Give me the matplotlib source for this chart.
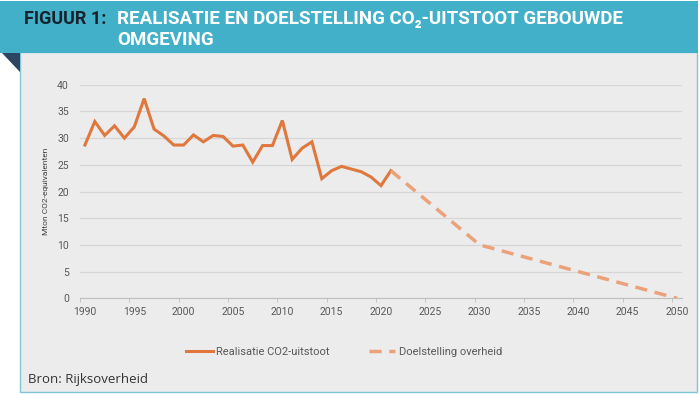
import matplotlib.pyplot as plt
from matplotlib.patches import Rectangle, Polygon

# gemeten uitstoot (Mton CO2-eq)
years = list(range(1990, 2022))
realisatie = [28.7, 33.1, 30.5, 32.3, 30.0, 32.1, 37.4, 31.7, 30.4, 28.7,
              28.7, 30.6, 29.3, 30.5, 30.3, 28.5, 28.7, 25.5, 28.6, 28.6,
              33.3, 26.0, 28.1, 29.3, 22.4, 23.9, 24.7, 24.2, 23.7, 22.7,
              21.1, 23.9]
# doelstelling
doel_years = [2021, 2030, 2050]
doel = [23.9, 10.0, 0.0]

xticks = list(range(1990, 2051, 5))
yticks = list(range(0, 41, 5))

plt.rcParams['font.family'] = ['Roboto', 'DejaVu Sans']

fig = plt.figure(figsize=(7, 3.94), dpi=100)
W, H = 700, 394

# achtergrond
bg = fig.add_axes([0, 0, 1, 1])
bg.set_xlim(0, W)
bg.set_ylim(H, 0)
bg.axis('off')
bg.add_patch(Rectangle((20, 52), 677, 340, facecolor='#ececec', edgecolor='#7fc6d6', lw=1))
bg.add_patch(Rectangle((0, 1), 698, 52, facecolor='#42b0c8', edgecolor='none'))
bg.add_patch(Polygon([(2, 53), (20, 53), (20, 72)], closed=True, facecolor='#2d4560', edgecolor='none'))

bg.text(24, 19, 'FIGUUR 1:', color='#17222e', fontsize=13, fontweight='bold', va='center', ha='left')
bg.text(117, 19, 'REALISATIE EN DOELSTELLING CO₂-UITSTOOT GEBOUWDE', color='white',
        fontsize=13.5, fontweight='bold', va='center', ha='left')
bg.text(117, 40, 'OMGEVING', color='white', fontsize=13.5, fontweight='bold', va='center', ha='left')
bg.text(28, 379, 'Bron: Rijksoverheid', color='#333333', fontsize=9.5, va='center', ha='left',
        family=['Open Sans', 'DejaVu Sans'])

ax = fig.add_axes([80 / W, 1 - 298.3 / H, (682 - 80) / W, (298.3 - 84.7) / H])
ax.set_facecolor('none')
ax.plot(years, realisatie, color='#e0783e', lw=2.2, label='Realisatie CO2-uitstoot', solid_joinstyle='miter')
ax.plot(doel_years, doel, color='#eba27a', lw=2.5, dashes=(3.5, 2.2), label='Doelstelling overheid')

ax.set_xlim(1989.5, 2050.5)
ax.set_ylim(0, 40)
ax.set_xticks(xticks)
ax.set_yticks(yticks)
ax.set_xticks([x - 0.5 for x in xticks], minor=True)
ax.tick_params(axis='x', which='major', length=0, pad=6, labelsize=7.5, labelcolor='#595959')
ax.tick_params(axis='x', which='minor', length=3, color='#bfbfbf')
ax.tick_params(axis='y', length=0, pad=8, labelsize=7.5, labelcolor='#595959')
ax.grid(axis='y', color='#d6d6d6', lw=0.9)
for s in ['top', 'right', 'left']:
    ax.spines[s].set_visible(False)
ax.spines['bottom'].set_color('#bfbfbf')
ax.set_axisbelow(True)
ax.set_ylabel('Mton CO2-equivalenten', fontsize=6, color='#404040', labelpad=6)

leg = fig.legend(*ax.get_legend_handles_labels(), loc='center', bbox_to_anchor=(344 / W, 1 - 352 / H),
                 ncol=2, frameon=False, fontsize=8, handlelength=2.4, columnspacing=3.5, handletextpad=0.3)
for t in leg.get_texts():
    t.set_color('#595959')

fig.savefig('out.png', dpi=100)
